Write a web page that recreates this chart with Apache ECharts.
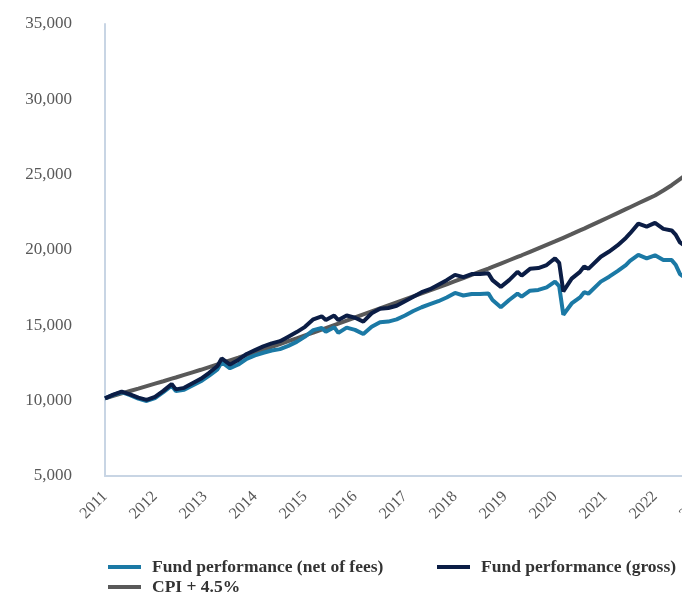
<!DOCTYPE html>
<html>
<head>
<meta charset="utf-8">
<script src="https://cdn.jsdelivr.net/npm/echarts@6/dist/echarts.min.js"></script>
<style>
html,body{margin:0;padding:0;background:#fff;overflow:hidden;width:682px;height:594px;}
#chart{width:720px;height:594px;}
</style>
</head>
<body>
<div id="chart"></div>
<script>
// Month of each observation (YYYY-MM)
const dates = [
'2011-01','2011-03','2011-05','2011-07','2011-09','2011-11',
'2012-01','2012-03','2012-05','2012-06','2012-08','2012-10','2012-12',
'2013-02','2013-04','2013-05','2013-07','2013-09','2013-11',
'2014-01','2014-03','2014-05','2014-07','2014-09','2014-11',
'2015-01','2015-03','2015-05','2015-06','2015-08','2015-09','2015-11',
'2016-01','2016-03','2016-05','2016-07','2016-09','2016-11',
'2017-01','2017-03','2017-05','2017-07','2017-09','2017-11',
'2018-01','2018-03','2018-05','2018-07','2018-09','2018-10','2018-12',
'2019-02','2019-04','2019-05','2019-07','2019-09','2019-11',
'2020-01','2020-02','2020-03','2020-05','2020-07','2020-08','2020-09','2020-12',
'2021-02','2021-04','2021-06','2021-07','2021-09','2021-11',
'2022-01','2022-03','2022-05','2022-06','2022-07','2022-08'
];
const netFees = [
10150,10380,10560,10370,10140,9980,
10170,10560,10990,10640,10730,11010,11290,
11660,12080,12550,12150,12400,12780,
13000,13180,13330,13420,13640,13900,
14250,14680,14820,14580,14880,14500,14850,
14700,14420,14900,15200,15250,15400,
15650,15950,16200,16400,16600,16850,
17150,16980,17080,17080,17120,16680,16200,
16680,17100,16900,17300,17350,17520,
17900,17600,15700,16450,16850,17200,17100,17900,
18230,18600,19000,19280,19670,19450,
19650,19340,19330,19000,18400,18200
];
const gross = [
10150,10400,10600,10420,10200,10050,
10250,10650,11100,10750,10850,11150,11450,
11850,12300,12800,12400,12700,13100,
13350,13600,13800,13950,14250,14550,
14900,15400,15600,15350,15650,15350,15650,
15500,15250,15800,16100,16150,16300,
16600,16900,17200,17400,17700,18000,
18350,18200,18400,18400,18450,18000,17550,
18000,18550,18300,18750,18800,19000,
19450,19150,17250,18100,18550,18900,18750,19550,
19900,20300,20800,21100,21750,21550,
21800,21400,21300,21000,20500,20300
];
const cpi = [
10150,10320,10480,10640,10800,10970,
11130,11290,11460,11540,11710,11880,12050,
12230,12410,12500,12680,12850,13030,
13210,13390,13570,13760,13950,14140,
14330,14520,14720,14820,15020,15120,15320,
15520,15720,15920,16120,16320,16520,
16720,16920,17120,17320,17520,17720,
17930,18140,18350,18560,18770,18880,19100,
19320,19540,19650,19880,20110,20340,
20570,20690,20810,21050,21300,21420,21550,21930,
22190,22450,22710,22840,23100,23360,
23620,23950,24300,24500,24700,24900
];
const yearTicks = {min: 2011, max: 2023, step: 1};
const valueTicks = {min: 5000, max: 35000, step: 5000};
const seriesNames = ['Fund performance (net of fees)', 'Fund performance (gross)', 'CPI + 4.5%'];

const toYear = s => +s.slice(0,4) + (+s.slice(5,7) - 1) / 12;
const pts = arr => dates.map((d, i) => [toYear(d), arr[i]]);

const FONT = "'Liberation Serif', 'Times New Roman', serif";
const colors = ['#1b79a5', '#0b1d45', '#595959'];
const axisColor = '#c8d5e4';

const chart = echarts.init(document.getElementById('chart'), null, {renderer: 'canvas'});
const legendBase = {
  icon: 'rect', itemWidth: 33, itemHeight: 4, padding: 0,
  textStyle: {fontFamily: FONT, fontSize: 17.5, fontWeight: 'bold', color: '#333', padding: [0,0,0,6]}
};
chart.setOption({
  animation: false,
  color: colors,
  grid: {left: 105, top: 24, bottom: 118, right: 15, containLabel: false},
  legend: [
    Object.assign({data: [seriesNames[0]], left: 108, top: 558}, legendBase),
    Object.assign({data: [seriesNames[1]], left: 437, top: 558}, legendBase),
    Object.assign({data: [seriesNames[2]], left: 108, top: 578}, legendBase)
  ],
  xAxis: {
    type: 'value', min: yearTicks.min, max: yearTicks.max, interval: yearTicks.step,
    axisLine: {show: true, lineStyle: {color: axisColor, width: 2}},
    axisTick: {show: false},
    splitLine: {show: false},
    axisLabel: {rotate: 45, margin: 18, fontFamily: FONT, fontSize: 16, color: '#595959',
      formatter: v => String(v)}
  },
  yAxis: {
    type: 'value', min: valueTicks.min, max: valueTicks.max, interval: valueTicks.step,
    axisLine: {show: true, lineStyle: {color: axisColor, width: 2}},
    axisTick: {show: false},
    splitLine: {show: false},
    axisLabel: {margin: 33, fontFamily: FONT, fontSize: 17, color: '#595959',
      formatter: v => v.toLocaleString('en-US')}
  },
  series: [
    {name: seriesNames[0], type: 'line', data: pts(netFees), showSymbol: false, lineStyle: {width: 4}, z: 3},
    {name: seriesNames[1], type: 'line', data: pts(gross), showSymbol: false, lineStyle: {width: 4}, z: 4},
    {name: seriesNames[2], type: 'line', data: pts(cpi), showSymbol: false, lineStyle: {width: 4}, z: 2}
  ]
});
</script>
</body>
</html>
